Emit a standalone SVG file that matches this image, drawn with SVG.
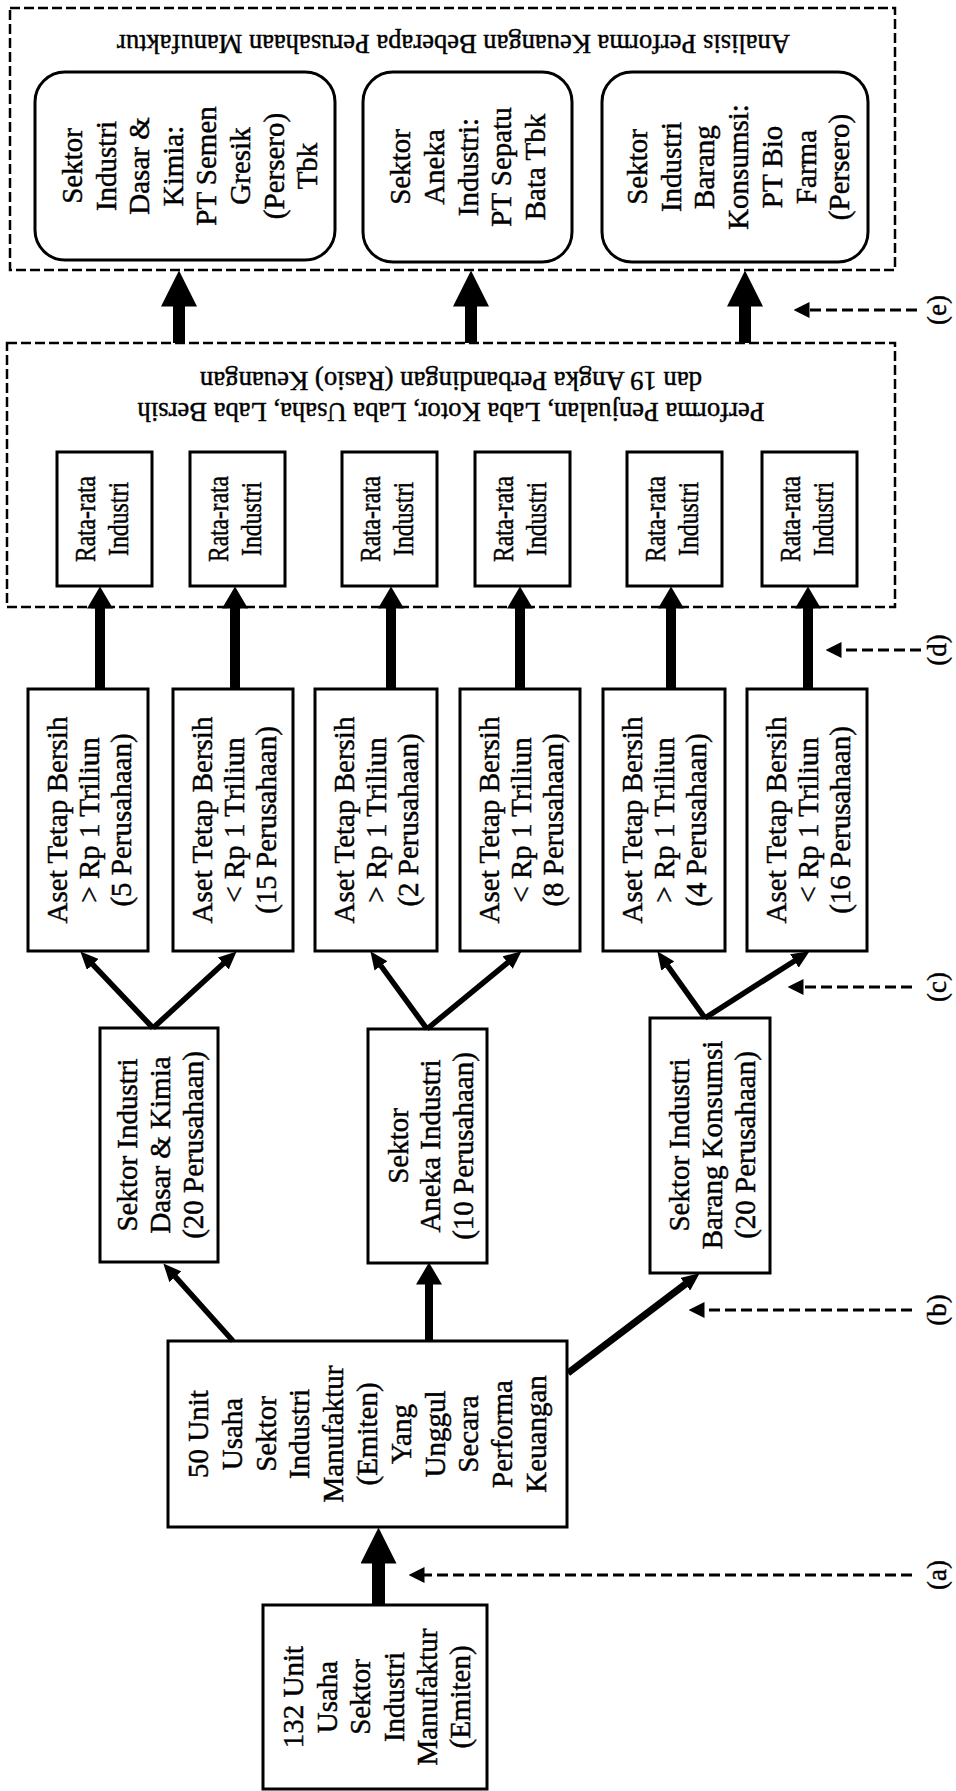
<svg xmlns="http://www.w3.org/2000/svg" width="956" height="1791" viewBox="0 0 956 1791">
<defs>
<style>
.box{fill:none;stroke:#000;stroke-width:3}
.dbox{fill:none;stroke:#000;stroke-width:2.5;stroke-dasharray:10 4}
.t{font-family:"Liberation Serif","Times New Roman",serif;font-size:29px;fill:#000;stroke:#000;stroke-width:0.45;text-anchor:middle}
.tr{font-size:29px}
.tt{font-size:26.5px}
.lb{font-size:27px}
.c{fill:none;stroke:#000}
.w13{stroke-width:13}
.w12{stroke-width:12}
.w10{stroke-width:10}
.w8{stroke-width:8}
.w7{stroke-width:7}
.w6{stroke-width:5.5}
.dl{stroke-width:3;stroke-dasharray:11 5}
</style>
<marker id="mBig" viewBox="0 -18 36 36" markerWidth="36" markerHeight="36" refX="0.5" refY="0" orient="auto" markerUnits="userSpaceOnUse"><path d="M0,-18 L36,0 L0,18 Z" fill="#000"/></marker>
<marker id="mMed" viewBox="0 -13 22 26" markerWidth="22" markerHeight="26" refX="0.5" refY="0" orient="auto" markerUnits="userSpaceOnUse"><path d="M0,-13 L22,0 L0,13 Z" fill="#000"/></marker>
<marker id="mSm" viewBox="0 -8 18 16" markerWidth="18" markerHeight="16" refX="0.5" refY="0" orient="auto" markerUnits="userSpaceOnUse"><path d="M0,-8 L18,0 L0,8 Z" fill="#000"/></marker>
<marker id="mDash" viewBox="0 -8 16 16" markerWidth="16" markerHeight="16" refX="0.5" refY="0" orient="auto" markerUnits="userSpaceOnUse"><path d="M0,-8 L16,0 L0,8 Z" fill="#000"/></marker>
</defs>
<rect x="0" y="0" width="956" height="1791" fill="#fff"/>

<g id="group-analisis">
<rect class="dbox" x="10" y="8" width="885" height="262"/>
<text class="t tt" transform="translate(453.5,35) rotate(180)" textLength="673" lengthAdjust="spacingAndGlyphs">Analisis Performa Keuangan Beberapa Perusahaan Manufaktur</text>
</g>

<g id="group-performa">
<rect class="dbox" x="7" y="343" width="888" height="264"/>
<text class="t tt" transform="translate(451,403) rotate(180)" textLength="627" lengthAdjust="spacingAndGlyphs">Performa Penjualan, Laba Kotor, Laba Usaha, Laba Bersih</text>
<text class="t tt" transform="translate(451,372) rotate(180)" textLength="502" lengthAdjust="spacingAndGlyphs">dan 19 Angka Perbandingan (Rasio) Keuangan</text>
</g>

<g id="node-t1">
<rect class="box" x="35" y="72" width="300" height="188" rx="30"/>
<text class="t" transform="translate(185,166) rotate(-90)"><tspan x="0" y="-103">Sektor</tspan><tspan x="0" y="-69.4">Industri</tspan><tspan x="0" y="-35.8">Dasar &amp;</tspan><tspan x="0" y="-2.2">Kimia:</tspan><tspan x="0" y="31.4">PT Semen</tspan><tspan x="0" y="65">Gresik</tspan><tspan x="0" y="98.6">(Persero)</tspan><tspan x="0" y="132.2">Tbk</tspan></text>
</g>
<g id="node-t2">
<rect class="box" x="363" y="72" width="209" height="190" rx="30"/>
<text class="t" transform="translate(467.5,167) rotate(-90)"><tspan x="0" y="-57.5">Sektor</tspan><tspan x="0" y="-23.75">Aneka</tspan><tspan x="0" y="10">Industri:</tspan><tspan x="0" y="43.75">PT Sepatu</tspan><tspan x="0" y="77.5">Bata Tbk</tspan></text>
</g>
<g id="node-t3">
<rect class="box" x="602" y="72" width="266" height="190" rx="30"/>
<text class="t" transform="translate(735,167) rotate(-90)"><tspan x="0" y="-88">Sektor</tspan><tspan x="0" y="-54.3">Industri</tspan><tspan x="0" y="-20.6">Barang</tspan><tspan x="0" y="13.1">Konsumsi:</tspan><tspan x="0" y="46.8">PT Bio</tspan><tspan x="0" y="80.5">Farma</tspan><tspan x="0" y="114.2">(Persero)</tspan></text>
</g>

<g id="node-r1"><rect class="box" x="57" y="452" width="95" height="134"/><text class="t tr" transform="translate(104.5,519) rotate(-90)"><tspan x="0" y="-9.5" textLength="86" lengthAdjust="spacingAndGlyphs">Rata-rata</tspan><tspan x="0" y="23.5" textLength="74" lengthAdjust="spacingAndGlyphs">Industri</tspan></text></g>
<g id="node-r2"><rect class="box" x="190" y="452" width="95" height="134"/><text class="t tr" transform="translate(237.5,519) rotate(-90)"><tspan x="0" y="-9.5" textLength="86" lengthAdjust="spacingAndGlyphs">Rata-rata</tspan><tspan x="0" y="23.5" textLength="74" lengthAdjust="spacingAndGlyphs">Industri</tspan></text></g>
<g id="node-r3"><rect class="box" x="342" y="452" width="95" height="134"/><text class="t tr" transform="translate(389.5,519) rotate(-90)"><tspan x="0" y="-9.5" textLength="86" lengthAdjust="spacingAndGlyphs">Rata-rata</tspan><tspan x="0" y="23.5" textLength="74" lengthAdjust="spacingAndGlyphs">Industri</tspan></text></g>
<g id="node-r4"><rect class="box" x="475" y="452" width="95" height="134"/><text class="t tr" transform="translate(522.5,519) rotate(-90)"><tspan x="0" y="-9.5" textLength="86" lengthAdjust="spacingAndGlyphs">Rata-rata</tspan><tspan x="0" y="23.5" textLength="74" lengthAdjust="spacingAndGlyphs">Industri</tspan></text></g>
<g id="node-r5"><rect class="box" x="627" y="452" width="95" height="134"/><text class="t tr" transform="translate(674.5,519) rotate(-90)"><tspan x="0" y="-9.5" textLength="86" lengthAdjust="spacingAndGlyphs">Rata-rata</tspan><tspan x="0" y="23.5" textLength="74" lengthAdjust="spacingAndGlyphs">Industri</tspan></text></g>
<g id="node-r6"><rect class="box" x="762" y="452" width="95" height="134"/><text class="t tr" transform="translate(809.5,519) rotate(-90)"><tspan x="0" y="-9.5" textLength="86" lengthAdjust="spacingAndGlyphs">Rata-rata</tspan><tspan x="0" y="23.5" textLength="74" lengthAdjust="spacingAndGlyphs">Industri</tspan></text></g>

<g id="node-a1"><rect class="box" x="28" y="689" width="120" height="262"/><text class="t" transform="translate(88,820) rotate(-90)"><tspan x="0" y="-21">Aset Tetap Bersih</tspan><tspan x="0" y="11">&gt; Rp 1 Triliun</tspan><tspan x="0" y="43">(5 Perusahaan)</tspan></text></g>
<g id="node-a2"><rect class="box" x="173" y="689" width="120" height="262"/><text class="t" transform="translate(233,820) rotate(-90)"><tspan x="0" y="-21">Aset Tetap Bersih</tspan><tspan x="0" y="11">&lt; Rp 1 Triliun</tspan><tspan x="0" y="43">(15 Perusahaan)</tspan></text></g>
<g id="node-a3"><rect class="box" x="315" y="689" width="122" height="262"/><text class="t" transform="translate(375,820) rotate(-90)"><tspan x="0" y="-21">Aset Tetap Bersih</tspan><tspan x="0" y="11">&gt; Rp 1 Triliun</tspan><tspan x="0" y="43">(2 Perusahaan)</tspan></text></g>
<g id="node-a4"><rect class="box" x="460" y="689" width="120" height="262"/><text class="t" transform="translate(520,820) rotate(-90)"><tspan x="0" y="-21">Aset Tetap Bersih</tspan><tspan x="0" y="11">&lt; Rp 1 Triliun</tspan><tspan x="0" y="43">(8 Perusahaan)</tspan></text></g>
<g id="node-a5"><rect class="box" x="603" y="689" width="122" height="262"/><text class="t" transform="translate(663,820) rotate(-90)"><tspan x="0" y="-21">Aset Tetap Bersih</tspan><tspan x="0" y="11">&gt; Rp 1 Triliun</tspan><tspan x="0" y="43">(4 Perusahaan)</tspan></text></g>
<g id="node-a6"><rect class="box" x="747" y="689" width="120" height="262"/><text class="t" transform="translate(807,820) rotate(-90)"><tspan x="0" y="-21">Aset Tetap Bersih</tspan><tspan x="0" y="11">&lt; Rp 1 Triliun</tspan><tspan x="0" y="43">(16 Perusahaan)</tspan></text></g>

<g id="node-dasar"><rect class="box" x="100" y="1028" width="118" height="234"/><text class="t" transform="translate(159,1145) rotate(-90)"><tspan x="0" y="-22">Sektor Industri</tspan><tspan x="0" y="11">Dasar &amp; Kimia</tspan><tspan x="0" y="44">(20 Perusahaan)</tspan></text></g>
<g id="node-aneka"><rect class="box" x="368" y="1029" width="119" height="234"/><text class="t" transform="translate(427.5,1146) rotate(-90)"><tspan x="0" y="-19.5">Sektor</tspan><tspan x="0" y="12.5">Aneka Industri</tspan><tspan x="0" y="45.5">(10 Perusahaan)</tspan></text></g>
<g id="node-barang"><rect class="box" x="650" y="1018" width="120" height="255"/><text class="t" transform="translate(710,1145) rotate(-90)"><tspan x="0" y="-21">Sektor Industri</tspan><tspan x="0" y="12">Barang Konsumsi</tspan><tspan x="0" y="45">(20 Perusahaan)</tspan></text></g>

<g id="node-50"><rect class="box" x="168" y="1341" width="399" height="186"/><text class="t" transform="translate(367.5,1434) rotate(-90)"><tspan x="0" y="-159.5">50 Unit</tspan><tspan x="0" y="-125.7">Usaha</tspan><tspan x="0" y="-91.9">Sektor</tspan><tspan x="0" y="-58.1">Industri</tspan><tspan x="0" y="-24.3">Manufaktur</tspan><tspan x="0" y="9.5">(Emiten)</tspan><tspan x="0" y="43.3">Yang</tspan><tspan x="0" y="77.1">Unggul</tspan><tspan x="0" y="110.9">Secara</tspan><tspan x="0" y="144.7">Performa</tspan><tspan x="0" y="178.5">Keuangan</tspan></text></g>

<g id="node-132"><rect class="box" x="263" y="1605" width="224" height="184"/><text class="t" transform="translate(375,1697) rotate(-90)"><tspan x="0" y="-72">132 Unit</tspan><tspan x="0" y="-38">Usaha</tspan><tspan x="0" y="-5">Sektor</tspan><tspan x="0" y="29">Industri</tspan><tspan x="0" y="62">Manufaktur</tspan><tspan x="0" y="95">(Emiten)</tspan></text></g>

<g id="connectors">
<line class="c w13" x1="378.5" y1="1605" x2="378.5" y2="1563" marker-end="url(#mBig)"/>
<line class="c w6" x1="233" y1="1341" x2="175" y2="1276.4" marker-end="url(#mSm)"/>
<line class="c w8" x1="429" y1="1341" x2="429" y2="1284" marker-end="url(#mMed)"/>
<line class="c w7" x1="568" y1="1373" x2="685.7" y2="1283.9" marker-end="url(#mSm)"/>
<line class="c w6" x1="153" y1="1028" x2="92.4" y2="964.1" marker-end="url(#mSm)"/>
<line class="c w6" x1="153" y1="1028" x2="223.7" y2="963.2" marker-end="url(#mSm)"/>
<line class="c w6" x1="427" y1="1029" x2="380.7" y2="965.5" marker-end="url(#mSm)"/>
<line class="c w6" x1="427" y1="1029" x2="508" y2="962.3" marker-end="url(#mSm)"/>
<line class="c w6" x1="705" y1="1018" x2="667.5" y2="965.6" marker-end="url(#mSm)"/>
<line class="c w6" x1="705" y1="1018" x2="794.8" y2="960.7" marker-end="url(#mSm)"/>
<line class="c w10" x1="100" y1="689" x2="100" y2="608" marker-end="url(#mMed)"/>
<line class="c w10" x1="235" y1="689" x2="235" y2="608" marker-end="url(#mMed)"/>
<line class="c w10" x1="391" y1="689" x2="391" y2="608" marker-end="url(#mMed)"/>
<line class="c w10" x1="520" y1="689" x2="520" y2="608" marker-end="url(#mMed)"/>
<line class="c w10" x1="671" y1="689" x2="671" y2="608" marker-end="url(#mMed)"/>
<line class="c w10" x1="808" y1="689" x2="808" y2="608" marker-end="url(#mMed)"/>
<line class="c w12" x1="179" y1="343" x2="179" y2="306" marker-end="url(#mBig)"/>
<line class="c w12" x1="471" y1="343" x2="471" y2="306" marker-end="url(#mBig)"/>
<line class="c w12" x1="745" y1="343" x2="745" y2="306" marker-end="url(#mBig)"/>
<line class="c dl" x1="917" y1="310" x2="809" y2="310" marker-end="url(#mDash)"/>
<line class="c dl" x1="921" y1="650" x2="841" y2="650" marker-end="url(#mDash)"/>
<line class="c dl" x1="912" y1="987" x2="803" y2="987" marker-end="url(#mDash)"/>
<line class="c dl" x1="912" y1="1310" x2="704" y2="1310" marker-end="url(#mDash)"/>
<line class="c dl" x1="912" y1="1575" x2="424" y2="1575" marker-end="url(#mDash)"/>
</g>

<g id="labels">
<text class="t lb" transform="translate(946,310) rotate(-90)">(e)</text>
<text class="t lb" transform="translate(946,650) rotate(-90)">(d)</text>
<text class="t lb" transform="translate(946,987) rotate(-90)">(c)</text>
<text class="t lb" transform="translate(946,1310) rotate(-90)">(b)</text>
<text class="t lb" transform="translate(946,1575) rotate(-90)">(a)</text>
</g>
</svg>
